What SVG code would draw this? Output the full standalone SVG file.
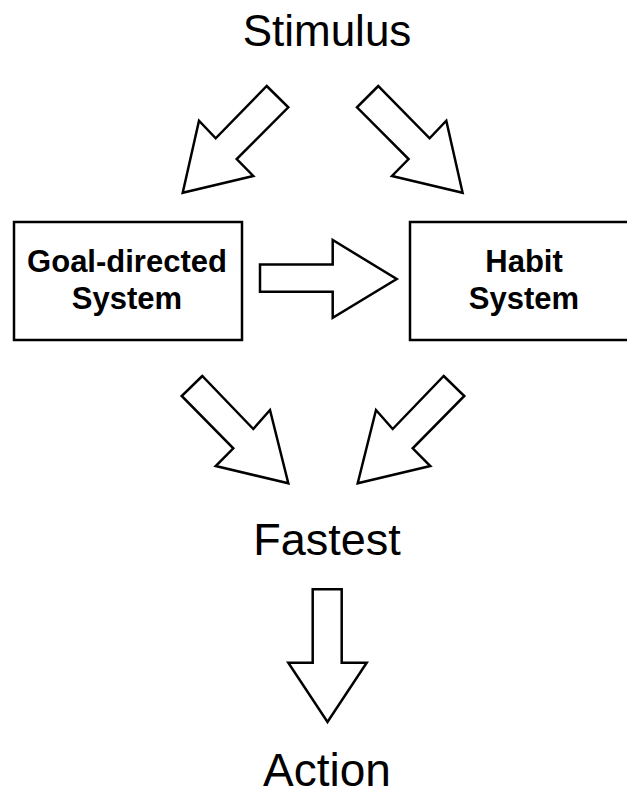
<svg xmlns="http://www.w3.org/2000/svg" width="627" height="800" viewBox="0 0 627 800">
<style>
.big{font-family:"Liberation Sans",Arial,Helvetica,sans-serif;font-size:44px;fill:#000;text-anchor:middle}
.box{fill:#fff;stroke:#000;stroke-width:2.5}
.lbl{font-family:"Liberation Sans",Arial,Helvetica,sans-serif;font-size:31px;font-weight:bold;fill:#000;text-anchor:middle}
.arr{fill:#fff;stroke:#000;stroke-width:2.5;stroke-linejoin:miter}
</style>
<rect width="627" height="800" fill="#fff"/>
<g id="stimulus"><text class="big" x="327" y="46">Stimulus</text></g>
<g id="goal"><rect class="box" x="14" y="222" width="228" height="118"/><text class="lbl" x="127" y="272">Goal-directed</text><text class="lbl" x="127" y="309">System</text></g>
<g id="habit"><rect class="box" x="410" y="222" width="228" height="118"/><text class="lbl" x="524" y="272">Habit</text><text class="lbl" x="524" y="309">System</text></g>
<g id="fastest"><text class="big" x="327" y="555" style="font-size:45px">Fastest</text></g>
<g id="action"><text class="big" x="327" y="786" style="font-size:46px">Action</text></g>
<g id="connectors">
<polygon class="arr" points="266.7,86 288.3,107.3 236.7,159 253.3,176 182.7,192.7 199,120.7 215.7,138.3"/>
<polygon class="arr" points="378.3,86 357,107.3 408.6,159 392,176 462.6,192.7 446.3,120.7 429.6,138.3"/>
<polygon class="arr" points="260,264.5 332.7,264.5 332.7,240 396.7,279 332.7,317.7 332.7,291.7 260,291.7"/>
<polygon class="arr" points="202.3,376 181.7,396 233.3,448.3 215.7,466 288.3,483.3 270,410 253.3,429"/>
<polygon class="arr" points="443.7,376 464.3,396 412.7,448.3 430.3,466 357.7,483.3 376,410 392.7,429"/>
<polygon class="arr" points="312.7,589.3 341.7,589.3 341.7,662.7 366.7,662.7 327.5,722 288.3,662.7 312.7,662.7"/>
</g>
</svg>
